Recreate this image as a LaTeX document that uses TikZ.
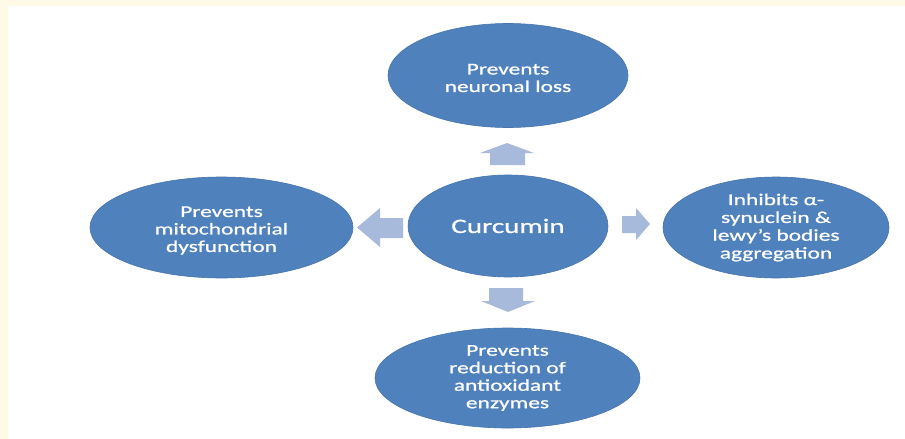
\documentclass[tikz,border=0pt]{standalone}
\usepackage{fontspec}
\setmainfont[FakeStretch=1.42,FakeBold=0.9]{Carlito}
\usetikzlibrary{shapes.geometric}
\definecolor{cream}{RGB}{255,250,232}
\definecolor{ellblue}{RGB}{79,129,189}
\definecolor{elledge}{RGB}{70,116,172}
\definecolor{arrblue}{RGB}{168,186,219}
\tikzset{
  bubble/.style={ellipse, fill=ellblue, draw=elledge, line width=0.6pt, inner sep=0pt,
    text=white, align=center, font=\fontsize{16.5}{17.5}\selectfont},
  bubbletext/.style={text=white, align=center, inner sep=0pt, font=\fontsize{16.5}{17.5}\selectfont},
  blockarrow/.style={fill=arrblue, draw=none}
}
\begin{document}
\begin{tikzpicture}[x=1pt,y=-1pt]
\useasboundingbox (0,0) rectangle (905,439);
\fill[cream] (0,0) rectangle (905,439);
\fill[white] (8,6) rectangle (905,439);

\node[bubble, minimum width=240, minimum height=104] (top) at (508,75.5) {};
\node[bubbletext] (toptext) at (top.center) [yshift=-2.5] {Prevents\\neuronal loss};
\node[bubble, minimum width=200, minimum height=102, font=\fontsize{20.5}{22}\selectfont] (cur) at (508,226) {Curcumin};
\node[bubble, minimum width=226, minimum height=101, font=\fontsize{16.5}{17.8}\selectfont] (right) at (776,227.5) {Inhibits α-\\synuclein \&\\lewy’s bodies\\aggregation};
\node[bubble, minimum width=263, minimum height=101] (left) at (221.5,227.5) {};
\node[bubbletext] (lefttext) at (left.center) [yshift=-3] {Prevents\\mitochondrial\\dysfunction};
\node[bubble, minimum width=265, minimum height=100] (bot) at (507.5,378) {Prevents\\reduction of\\antioxidant\\enzymes};

% up arrow
\fill[blockarrow] (490,165) -- (490,153) -- (480,153) -- (507,143) -- (534,153) -- (525,153) -- (525,165) -- cycle;
% down arrow
\fill[blockarrow] (489,288) -- (523,288) -- (523,301) -- (535,301) -- (508,312) -- (481,301) -- (489,301) -- cycle;
% right arrow
\fill[blockarrow] (622,216) -- (636,216) -- (636,208) -- (650,224) -- (636,240) -- (636,233) -- (622,233) -- cycle;
% left arrow
\fill[blockarrow] (403,218) -- (380,218) -- (380,208) -- (357,227.5) -- (380,247) -- (380,238) -- (403,238) -- cycle;
\end{tikzpicture}
\end{document}
